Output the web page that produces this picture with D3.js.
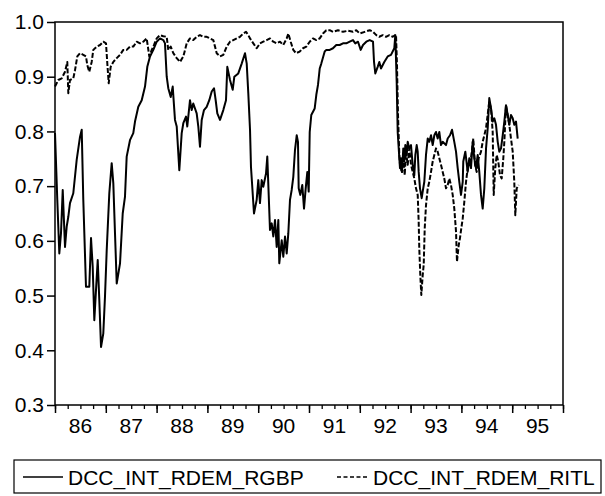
<!DOCTYPE html>
<html>
<head>
<meta charset="utf-8">
<script src="https://cdn.jsdelivr.net/npm/d3@7"></script>
<style>
  body { margin: 0; background: #fff; }
  text { font-family: "Liberation Sans", Arial, Helvetica, sans-serif; fill: #000; }
</style>
</head>
<body>
<div id="chart"></div>
<script>
// tick labels
const yearLabels = ["86", "87", "88", "89", "90", "91", "92", "93", "94", "95"];
const yTicks = [0.3, 0.4, 0.5, 0.6, 0.7, 0.8, 0.9, 1.0];
const seriesNames = ["DCC_INT_RDEM_RGBP", "DCC_INT_RDEM_RITL"];

// [decimal year, correlation]
const rgbp = [
  [1986.000, .797], [1986.045, .675], [1986.085, .577], [1986.118, .614], [1986.152, .693],
  [1986.197, .589], [1986.230, .626], [1986.262, .644], [1986.295, .669], [1986.360, .687],
  [1986.427, .748], [1986.492, .790], [1986.526, .803], [1986.557, .675], [1986.610, .516],
  [1986.675, .516], [1986.709, .605], [1986.742, .553], [1986.774, .455], [1986.807, .510],
  [1986.841, .565], [1986.872, .492], [1986.906, .406], [1986.951, .431], [1986.984, .498],
  [1987.018, .583], [1987.069, .687], [1987.116, .742], [1987.148, .705], [1987.181, .614],
  [1987.215, .522], [1987.280, .559], [1987.333, .650], [1987.378, .681], [1987.411, .754],
  [1987.476, .784], [1987.541, .797], [1987.575, .818], [1987.640, .845], [1987.707, .857],
  [1987.772, .882], [1987.817, .918], [1987.870, .937], [1987.935, .949], [1988.002, .964],
  [1988.067, .970], [1988.132, .967], [1988.165, .961], [1988.199, .900], [1988.230, .879],
  [1988.278, .863], [1988.317, .882], [1988.362, .821], [1988.396, .809], [1988.447, .729],
  [1988.494, .797], [1988.526, .815], [1988.579, .827], [1988.604, .809], [1988.657, .857],
  [1988.691, .839], [1988.722, .851], [1988.789, .833], [1988.821, .809], [1988.854, .772],
  [1988.888, .821], [1988.933, .839], [1988.986, .845], [1989.037, .857], [1989.085, .873],
  [1989.130, .879], [1989.163, .857], [1989.195, .833], [1989.248, .821], [1989.313, .839],
  [1989.366, .857], [1989.392, .918], [1989.445, .894], [1989.498, .876], [1989.530, .900],
  [1989.608, .906], [1989.675, .924], [1989.740, .943], [1989.774, .924], [1989.805, .870],
  [1989.839, .803], [1989.858, .735], [1989.917, .650], [1989.970, .675], [1990.002, .711],
  [1990.035, .669], [1990.069, .711], [1990.100, .699], [1990.154, .723], [1990.179, .754],
  [1990.232, .620], [1990.266, .632], [1990.297, .608], [1990.331, .638], [1990.364, .589],
  [1990.396, .638], [1990.415, .559], [1990.463, .601], [1990.494, .571], [1990.528, .608],
  [1990.561, .577], [1990.593, .614], [1990.626, .675], [1990.659, .693], [1990.691, .717],
  [1990.724, .766], [1990.758, .793], [1990.783, .781], [1990.797, .696], [1990.829, .684],
  [1990.868, .702], [1990.902, .659], [1990.935, .696], [1990.967, .726], [1990.994, .690],
  [1991.014, .799], [1991.045, .830], [1991.112, .842], [1991.144, .867], [1991.177, .885],
  [1991.211, .915], [1991.242, .924], [1991.309, .946], [1991.341, .949], [1991.408, .949],
  [1991.472, .952], [1991.537, .958], [1991.604, .958], [1991.669, .961], [1991.734, .961],
  [1991.801, .964], [1991.866, .967], [1991.911, .961], [1991.965, .964], [1992.018, .949],
  [1992.063, .958], [1992.128, .964], [1992.195, .967], [1992.260, .964], [1992.280, .927],
  [1992.305, .906], [1992.352, .918], [1992.384, .927], [1992.417, .915], [1992.482, .927],
  [1992.549, .937], [1992.614, .940], [1992.679, .952], [1992.699, .976], [1992.726, .891],
  [1992.746, .799], [1992.766, .769], [1992.791, .733], [1992.811, .751], [1992.831, .726],
  [1992.856, .769], [1992.876, .745], [1992.896, .775], [1992.923, .757], [1992.943, .781],
  [1992.974, .769], [1993.008, .775], [1993.041, .739], [1993.073, .720], [1993.093, .757],
  [1993.120, .775], [1993.140, .763], [1993.159, .726], [1993.185, .696], [1993.218, .678],
  [1993.238, .690], [1993.270, .708], [1993.303, .757], [1993.337, .787], [1993.368, .781],
  [1993.402, .793], [1993.435, .775], [1993.467, .793], [1993.500, .799], [1993.533, .787],
  [1993.565, .799], [1993.598, .775], [1993.632, .781], [1993.697, .775], [1993.730, .787],
  [1993.776, .793], [1993.815, .803], [1993.860, .781], [1993.894, .763], [1993.927, .733],
  [1993.959, .708], [1993.992, .684], [1994.026, .708], [1994.037, .745], [1994.077, .763],
  [1994.124, .726], [1994.156, .751], [1994.189, .733], [1994.222, .781], [1994.254, .751],
  [1994.287, .733], [1994.321, .757], [1994.352, .726], [1994.386, .684], [1994.419, .659],
  [1994.451, .696], [1994.485, .769], [1994.518, .806], [1994.549, .861], [1994.583, .842],
  [1994.616, .818], [1994.648, .824], [1994.681, .812], [1994.715, .781], [1994.746, .763],
  [1994.780, .769], [1994.813, .793], [1994.845, .818], [1994.878, .848], [1994.911, .830],
  [1994.943, .812], [1994.976, .830], [1995.010, .824], [1995.041, .812], [1995.075, .818],
  [1995.108, .787]
];

const ritl = [
  [1986.000, .882], [1986.065, .894], [1986.132, .897], [1986.197, .909], [1986.242, .927],
  [1986.262, .870], [1986.295, .894], [1986.360, .897], [1986.394, .912], [1986.439, .937],
  [1986.492, .943], [1986.557, .940], [1986.610, .937], [1986.636, .921], [1986.675, .909],
  [1986.722, .927], [1986.754, .949], [1986.821, .955], [1986.886, .958], [1986.951, .964],
  [1987.004, .961], [1987.030, .924], [1987.057, .888], [1987.096, .918], [1987.148, .927],
  [1987.215, .934], [1987.280, .940], [1987.344, .949], [1987.411, .949], [1987.476, .955],
  [1987.541, .955], [1987.608, .964], [1987.673, .961], [1987.738, .964], [1987.805, .970],
  [1987.856, .937], [1987.904, .949], [1987.949, .958], [1988.002, .970], [1988.067, .976],
  [1988.132, .974], [1988.199, .973], [1988.230, .949], [1988.278, .955], [1988.329, .943],
  [1988.396, .934], [1988.461, .927], [1988.526, .937], [1988.593, .961], [1988.657, .970],
  [1988.722, .967], [1988.789, .973], [1988.854, .976], [1988.919, .973], [1988.986, .973],
  [1989.051, .970], [1989.116, .967], [1989.150, .955], [1989.183, .943], [1989.248, .937],
  [1989.313, .940], [1989.380, .955], [1989.445, .964], [1989.510, .967], [1989.577, .970],
  [1989.642, .973], [1989.707, .979], [1989.760, .982], [1989.805, .976], [1989.839, .970],
  [1989.904, .961], [1989.970, .952], [1990.035, .961], [1990.100, .964], [1990.167, .967],
  [1990.232, .970], [1990.297, .964], [1990.364, .961], [1990.429, .964], [1990.494, .958],
  [1990.561, .970], [1990.593, .979], [1990.640, .964], [1990.691, .949], [1990.744, .943],
  [1990.817, .946], [1990.882, .952], [1990.947, .955], [1991.014, .964], [1991.079, .970],
  [1991.144, .967], [1991.211, .970], [1991.276, .979], [1991.341, .985], [1991.408, .985],
  [1991.472, .982], [1991.571, .985], [1991.669, .982], [1991.768, .984], [1991.866, .982],
  [1991.931, .985], [1991.998, .979], [1992.097, .982], [1992.195, .985], [1992.260, .982],
  [1992.325, .976], [1992.384, .973], [1992.451, .976], [1992.516, .973], [1992.581, .976],
  [1992.648, .973], [1992.713, .977], [1992.732, .921], [1992.752, .830], [1992.778, .757],
  [1992.797, .733], [1992.831, .726], [1992.856, .757], [1992.884, .720], [1992.909, .763],
  [1992.943, .739], [1992.974, .769], [1993.008, .739], [1993.041, .726], [1993.073, .714],
  [1993.106, .696], [1993.140, .684], [1993.159, .635], [1993.171, .586], [1993.191, .537],
  [1993.211, .501], [1993.238, .537], [1993.258, .556], [1993.278, .623], [1993.303, .665],
  [1993.337, .696], [1993.368, .708], [1993.402, .726], [1993.435, .745], [1993.467, .757],
  [1993.500, .769], [1993.533, .763], [1993.565, .751], [1993.598, .739], [1993.632, .726],
  [1993.663, .714], [1993.697, .696], [1993.730, .702], [1993.762, .714], [1993.795, .702],
  [1993.829, .684], [1993.860, .659], [1993.894, .617], [1993.913, .562], [1993.947, .592],
  [1993.972, .605], [1993.998, .623], [1994.026, .641], [1994.057, .671], [1994.091, .708],
  [1994.124, .733], [1994.156, .745], [1994.189, .751], [1994.234, .787], [1994.268, .739],
  [1994.301, .726], [1994.340, .751], [1994.386, .763], [1994.419, .781], [1994.451, .793],
  [1994.485, .806], [1994.549, .855], [1994.583, .842], [1994.616, .799], [1994.636, .684],
  [1994.667, .733], [1994.695, .757], [1994.726, .745], [1994.760, .720], [1994.793, .714],
  [1994.825, .751], [1994.845, .781], [1994.878, .848], [1994.911, .830], [1994.943, .812],
  [1994.976, .787], [1995.010, .763], [1995.041, .708], [1995.061, .647], [1995.089, .696],
  [1995.128, .702]
];

// set the dimensions and margins of the graph
const margin = { top: 22, right: 42, bottom: 91, left: 55 },
  width = 605 - margin.left - margin.right,
  height = 496 - margin.top - margin.bottom;

const root = d3
  .select("#chart")
  .append("svg")
  .attr("width", 605)
  .attr("height", 496);

const svg = root
  .append("g")
  .attr("transform", `translate(${margin.left}, ${margin.top})`);

const x = d3.scaleLinear().domain([1986, 1996]).range([0, width]);
const y = d3.scaleLinear().domain([0.3, 1.0]).range([height, 0]);

// Y axis
const yAxis = svg
  .append("g")
  .call(
    d3.axisLeft(y)
      .tickValues(yTicks)
      .tickFormat(d3.format(".1f"))
      .tickSize(8)
      .tickPadding(3)
  );
yAxis.select(".domain").remove();
yAxis.selectAll("line").attr("stroke", "#000").attr("stroke-width", 1.5);
yAxis.selectAll("text").style("font-size", "21px").attr("font-family", null);

// X axis: quarter ticks and longer year ticks
const xMinor = svg
  .append("g")
  .attr("transform", `translate(0, ${height})`)
  .call(
    d3.axisBottom(x)
      .tickValues(d3.range(0, 41).map((i) => 1986 + i * 0.25))
      .tickSize(4)
      .tickFormat("")
  );
xMinor.select(".domain").remove();
xMinor.selectAll("line").attr("stroke", "#000").attr("stroke-width", 1.3);

const xMajor = svg
  .append("g")
  .attr("transform", `translate(0, ${height})`)
  .call(
    d3.axisBottom(x)
      .tickValues(d3.range(1986, 1997))
      .tickSize(8)
      .tickFormat("")
  );
xMajor.select(".domain").remove();
xMajor.selectAll("line").attr("stroke", "#000").attr("stroke-width", 1.5);

// year labels sit in the middle of each year
svg
  .selectAll(".yearLabel")
  .data(yearLabels)
  .join("text")
  .attr("class", "yearLabel")
  .attr("x", (d, i) => x(1986 + i + 0.5))
  .attr("y", height + 28)
  .attr("text-anchor", "middle")
  .style("font-size", "21px")
  .text((d) => d);

// Lines
const line = d3
  .line()
  .x((d) => x(d[0]))
  .y((d) => y(d[1]));

svg
  .append("path")
  .datum(rgbp)
  .attr("fill", "none")
  .attr("stroke", "#000")
  .attr("stroke-width", 2)
  .attr("stroke-linejoin", "round")
  .attr("d", line);

svg
  .append("path")
  .datum(ritl)
  .attr("fill", "none")
  .attr("stroke", "#000")
  .attr("stroke-width", 2)
  .attr("stroke-dasharray", "5,2")
  .attr("stroke-linejoin", "round")
  .attr("d", line);

// frame
svg
  .append("rect")
  .attr("width", width)
  .attr("height", height)
  .attr("fill", "none")
  .attr("stroke", "#000")
  .attr("stroke-width", 1.5);

// Legend
const legend = root.append("g");
legend
  .append("rect")
  .attr("x", 14)
  .attr("y", 460)
  .attr("width", 587)
  .attr("height", 33)
  .attr("fill", "none")
  .attr("stroke", "#000")
  .attr("stroke-width", 1.2);

legend
  .append("line")
  .attr("x1", 23).attr("x2", 63)
  .attr("y1", 477).attr("y2", 477)
  .attr("stroke", "#000")
  .attr("stroke-width", 1.3);
legend
  .append("text")
  .attr("x", 68)
  .attr("y", 485)
  .style("font-size", "21px")
  .text(seriesNames[0]);

legend
  .append("line")
  .attr("x1", 337).attr("x2", 368)
  .attr("y1", 477).attr("y2", 477)
  .attr("stroke", "#000")
  .attr("stroke-width", 1.3)
  .attr("stroke-dasharray", "4,2.5");
legend
  .append("text")
  .attr("x", 373)
  .attr("y", 485)
  .style("font-size", "21px")
  .text(seriesNames[1]);
</script>
</body>
</html>
